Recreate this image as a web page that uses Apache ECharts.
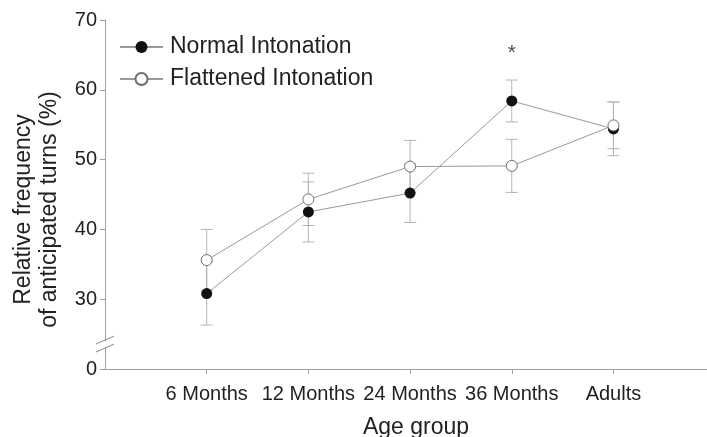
<!DOCTYPE html>
<html>
<head>
<meta charset="utf-8">
<script src="https://cdn.jsdelivr.net/npm/echarts@6/dist/echarts.min.js"></script>
<style>html,body{margin:0;padding:0;background:#fff}#c{width:707px;height:437px}</style>
</head>
<body>
<div id="c"></div>
<script>
const categories = ['6 Months', '12 Months', '24 Months', '36 Months', 'Adults'];
const normalMean = [30.8, 42.5, 45.2, 58.4, 54.4];
const normalErr  = [4.5, 4.3, 4.2, 3.0, 3.85];
const flatMean   = [35.6, 44.3, 49.0, 49.1, 54.9];
const flatErr    = [4.4, 3.75, 3.75, 3.8, 3.35];
const yTickValues = [20, 30, 40, 50, 60, 70];
const yTickLabels = ['0', '30', '40', '50', '60', '70'];
const breakValue = 23.5;
const sigCategory = ['36 Months'];
const sigY = [65.2];
const sigText = ['*'];

const xIdx = c => categories.indexOf(c) + 1;
const pts = arr => arr.map((v, i) => [i + 1, v]);
const errs = (m, e) => m.map((v, i) => [i + 1, v - e[i], v + e[i]]);

const FONT = 'Liberation Sans, Arial, sans-serif';
const chart = echarts.init(document.getElementById('c'), null, {renderer: 'canvas'});

function errorItem(params, api) {
  const x = api.value(0);
  const lo = api.coord([x, api.value(1)]);
  const hi = api.coord([x, api.value(2)]);
  const w = 6;
  const st = {stroke: '#b4b4b4', lineWidth: 1};
  return {
    type: 'group',
    children: [
      {type: 'line', shape: {x1: lo[0], y1: lo[1], x2: hi[0], y2: hi[1]}, style: st},
      {type: 'line', shape: {x1: lo[0] - w, y1: lo[1], x2: lo[0] + w, y2: lo[1]}, style: st},
      {type: 'line', shape: {x1: hi[0] - w, y1: hi[1], x2: hi[0] + w, y2: hi[1]}, style: st}
    ]
  };
}

const option = {
  animation: false,
  backgroundColor: '#fff',
  textStyle: {fontFamily: FONT},
  grid: {left: 105, right: 0, top: 20, bottom: 68, containLabel: false, outerBoundsMode: 'none'},
  legend: {
    orient: 'vertical', left: 119, top: 35, padding: 0,
    itemWidth: 43, itemHeight: 15, itemGap: 8,
    textStyle: {fontSize: 23, color: '#222', fontFamily: FONT, lineHeight: 24, padding: [0, 0, 0, 2]},
    data: ['Normal Intonation', 'Flattened Intonation']
  },
  xAxis: {
    type: 'value', min: 0, max: 5.92,
    name: 'Age group', nameLocation: 'middle', nameGap: 47,
    nameTextStyle: {fontSize: 23, color: '#222', fontFamily: FONT, padding: [0, 0, 0, 20]},
    axisLine: {show: true, lineStyle: {color: '#a0a0a0', width: 1}},
    axisTick: {show: true, length: 5, inside: false, customValues: [1, 2, 3, 4, 5], lineStyle: {color: '#a0a0a0'}},
    axisLabel: {customValues: [1, 2, 3, 4, 5], margin: 15, fontSize: 20, color: '#222', fontFamily: FONT,
      formatter: v => categories[Math.round(v) - 1] || ''},
    splitLine: {show: false}
  },
  yAxis: {
    type: 'value', min: 20, max: 70, interval: 10,
    name: 'Relative frequency\nof anticipated turns (%)', nameLocation: 'middle', nameGap: 42, nameRotate: 90,
    nameTextStyle: {fontSize: 23, color: '#222', fontFamily: FONT, lineHeight: 26, padding: [0, 30, 0, 0]},
    axisLine: {show: true, lineStyle: {color: '#a0a0a0', width: 1}},
    axisTick: {show: true, length: 5, customValues: yTickValues, lineStyle: {color: '#a0a0a0'}},
    axisLabel: {customValues: yTickValues, margin: 8, fontSize: 20, color: '#222', fontFamily: FONT,
      formatter: v => yTickLabels[yTickValues.indexOf(v)] ?? ''},
    splitLine: {show: false}
  },
  series: [
    {type: 'custom', name: 'errN', renderItem: errorItem, data: errs(normalMean, normalErr), z: 1, silent: true},
    {type: 'custom', name: 'errF', renderItem: errorItem, data: errs(flatMean, flatErr), z: 1, silent: true},
    {
      type: 'line', name: 'Normal Intonation', data: pts(normalMean), z: 3,
      symbol: 'circle', symbolSize: 11,
      lineStyle: {color: '#9a9a9a', width: 1},
      itemStyle: {color: '#111', borderWidth: 0}
    },
    {
      type: 'line', name: 'Flattened Intonation', data: pts(flatMean), z: 4,
      symbol: 'circle', symbolSize: 11,
      lineStyle: {color: '#9a9a9a', width: 1},
      itemStyle: {color: '#fff', borderColor: '#6e6e6e', borderWidth: 1}
    },
    {
      type: 'scatter', name: 'sig', silent: true, symbolSize: 0,
      data: sigCategory.map((c, i) => ({value: [xIdx(c), sigY[i]], label: {formatter: sigText[i]}})),
      label: {show: true, position: 'inside', fontSize: 21, color: '#222', fontFamily: FONT}
    }
  ]
};
chart.setOption(option);

// axis break marks
const p = chart.convertToPixel({gridIndex: 0}, [0, breakValue]);
const bx = p[0], by = p[1];
chart.setOption({
  graphic: [
    {type: 'rect', shape: {x: bx - 2, y: by - 3, width: 4, height: 6}, style: {fill: '#fff'}, z: 100},
    {type: 'line', shape: {x1: bx - 9, y1: by - 0.5, x2: bx + 9, y2: by - 8.5}, style: {stroke: '#888', lineWidth: 1}, z: 101},
    {type: 'line', shape: {x1: bx - 9, y1: by + 7.5, x2: bx + 9, y2: by - 0.5}, style: {stroke: '#888', lineWidth: 1}, z: 101}
  ]
});
</script>
</body>
</html>
